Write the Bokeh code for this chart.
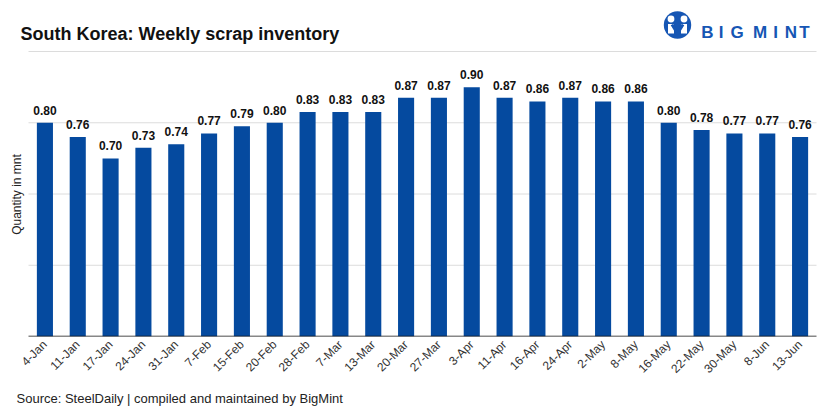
from math import pi
from bokeh.plotting import figure
from bokeh.models import ColumnDataSource, Range1d, FixedTicker, LabelSet, Title
from bokeh.core.properties import value
from bokeh.embed import file_html
from bokeh.resources import INLINE

categories = ["4-Jan", "11-Jan", "17-Jan", "24-Jan", "31-Jan", "7-Feb", "15-Feb", "20-Feb",
              "28-Feb", "7-Mar", "13-Mar", "20-Mar", "27-Mar", "3-Apr", "11-Apr", "16-Apr",
              "24-Apr", "2-May", "8-May", "16-May", "22-May", "30-May", "8-Jun", "13-Jun"]
values = [0.80, 0.76, 0.70, 0.73, 0.74, 0.77, 0.79, 0.80, 0.83, 0.83, 0.83, 0.87,
          0.87, 0.90, 0.87, 0.86, 0.87, 0.86, 0.86, 0.80, 0.78, 0.77, 0.77, 0.76]
grid_ticks = [0.4, 0.6, 0.8, 1.0]
y_base = 0.2

title_text = "South Korea: Weekly scrap inventory"
y_label = "Quantity in mnt"
footer_text = "Source: SteelDaily | compiled and maintained by BigMint"
logo_letters = ["B", "I", "G", "M", "I", "N", "T"]

BAR = "#054a9f"
LOGO = "#1656b4"
FONT = "Liberation Sans"
W, H = 825, 412

# layout geometry (pixels): plot area of the bars
PL, PR, PB = 28, 816, 336          # left, right, baseline (window px)
XS = (PR - PL) / len(categories)   # px per category
YS = 356.25                        # px per unit of value


def px_x(wx):
    return (wx - PL) / XS - 0.5


def px_y(wy):
    return y_base + (PB - wy) / YS


idx = list(range(len(categories)))
src = ColumnDataSource(dict(x=idx, val=values, lab=["%.2f" % v for v in values]))

p = figure(width=W, height=H, x_range=Range1d(px_x(0), px_x(W)),
           y_range=Range1d(px_y(PB), px_y(0)), y_axis_type=None,
           output_backend="svg", toolbar_location=None,
           min_border_left=0, min_border_right=0, min_border_top=0,
           min_border_bottom=H - PB)
p.outline_line_color = None
p.border_fill_color = "white"
p.background_fill_color = "white"
p.grid.visible = False

first, last = idx[0] - 0.5, idx[-1] + 0.5

# gridlines
p.segment(x0=[first] * len(grid_ticks), x1=[last] * len(grid_ticks), y0=grid_ticks,
          y1=grid_ticks, line_color="#dcdcdc", line_width=1)

# bars
p.vbar(x="x", top="val", bottom=y_base, width=0.49, source=src, color=BAR, line_color=None)

# baseline (axis line)
p.segment(x0=[first], x1=[last], y0=[y_base], y1=[y_base], line_color="#111111",
          line_width=1.5)

p.add_layout(LabelSet(x="x", y="val", text="lab", source=src, y_offset=8,
                      text_align="center", text_baseline="alphabetic",
                      text_font=value(FONT), text_font_style="bold", text_font_size="12px",
                      text_color="#111111"))

xa = p.xaxis[0]
xa.ticker = FixedTicker(ticks=idx)
xa.major_label_overrides = {i: c for i, c in zip(idx, categories)}
xa.major_label_orientation = pi / 4
xa.major_label_text_font = FONT
xa.major_label_text_font_size = "12px"
xa.major_label_text_color = "#333333"
xa.major_label_standoff = 6
xa.major_tick_line_color = None
xa.minor_tick_line_color = None
xa.major_tick_in = 0
xa.major_tick_out = 0
xa.axis_line_color = None

# y axis label
p.text(x=[px_x(16)], y=[px_y(194)], text=[y_label], angle=pi / 2, text_align="center",
       text_baseline="middle", text_font=value(FONT), text_font_size="12px",
       text_color="#222222")

# title
p.text(x=[px_x(20)], y=[px_y(33)], text=[title_text], text_font=value(FONT),
       text_font_size="18px", text_font_style="bold", text_color="#111111",
       text_baseline="alphabetic")

# logo
p.circle(x=[px_x(677)], y=[px_y(24.5)], radius=13.7, radius_units="screen",
         fill_color=LOGO, line_color=None)
p.circle(x=[px_x(670.5), px_x(683.5)], y=[px_y(18.5)] * 2, radius=3.4,
         radius_units="screen", fill_color="white", line_color=None)
p.quad(left=[px_x(667.5), px_x(680.5)], right=[px_x(673.5), px_x(686.5)],
       top=[px_y(23.5)] * 2, bottom=[px_y(33)] * 2, fill_color="white", line_color=None)
p.line(x=[px_x(671.5), px_x(677), px_x(682.5)], y=[px_y(24), px_y(33), px_y(24)],
       line_color=LOGO, line_width=3)
letter_cx = [707, 720.5, 736.5, 759.5, 775, 790.5, 804]
p.text(x=[px_x(c) for c in letter_cx], y=[px_y(32)] * len(logo_letters), text=logo_letters,
       text_font=value(FONT), text_font_size="17px", text_font_style="bold",
       text_color=LOGO, text_align="center", text_baseline="alphabetic")

# footer
p.add_layout(Title(text=footer_text, align="left", offset=16, text_font=FONT,
                   text_font_size="13px", text_font_style="normal",
                   text_color="#222222"), "below")

open("out.html", "w").write(file_html(p, INLINE))
